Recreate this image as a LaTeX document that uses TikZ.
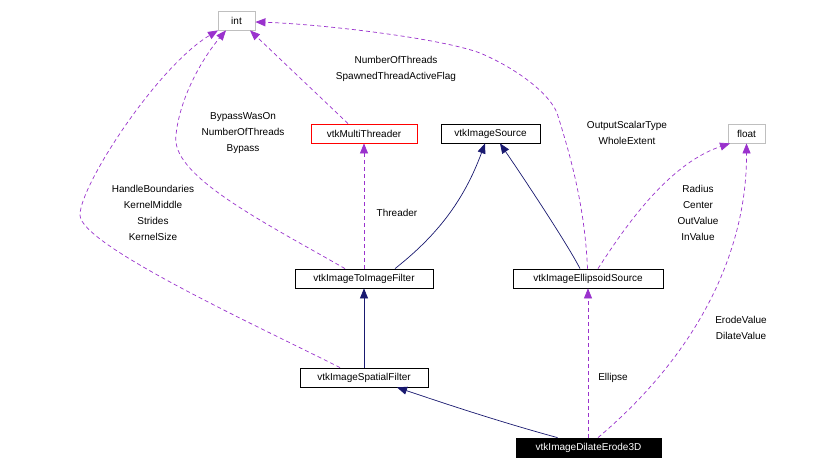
\documentclass[tikz,border=0pt]{standalone}
\usepackage{fontspec}
\setmainfont{Liberation Sans}
\usetikzlibrary{arrows.meta}
\definecolor{orchid}{HTML}{9A32CD}
\definecolor{navyline}{HTML}{191970}
\definecolor{greyline}{HTML}{BFBFBF}
\tikzset{
	cls/.style={draw=black, line width=0.8pt, minimum height=19pt, inner sep=0pt, font=\fontsize{10}{12}\selectfont},
	basic/.style={cls, draw=greyline, minimum width=37pt},
	member/.style={orchid, line width=0.7pt, dash pattern=on 4pt off 3pt, -{Triangle[length=10pt, width=8pt]}},
	inherit/.style={navyline, line width=0.7pt, -{Triangle[length=10pt, width=8pt]}},
	lbl/.style={align=center, inner sep=0pt, font=\fontsize{10}{16}\selectfont}
}
\begin{document}
\begin{tikzpicture}[x=1pt, y=-1pt]
	\fill[white] (0,0) rectangle (832,469);
	\useasboundingbox (0,0) rectangle (832,469);
	% classes
	\node[basic] (int) at (236.5,20.5) {int};
	\node[basic] (float) at (746.5,133.5) {float};
	\node[cls, draw=red, minimum width=106pt] (threader) at (364,133.5) {vtkMultiThreader};
	\node[cls, minimum width=99pt] (source) at (490.5,133.5) {vtkImageSource};
	\node[cls, minimum width=138pt] (toimage) at (364,278.5) {vtkImageToImageFilter};
	\node[cls, minimum width=150pt] (ellipsoid) at (588,278.5) {vtkImageEllipsoidSource};
	\node[cls, minimum width=128pt] (spatial) at (364,377.5) {vtkImageSpatialFilter};
	\node[cls, fill=black, text=white, minimum width=145pt] (dilate) at (588.5,447.5) {vtkImageDilateErode3D};
	% inheritance
	\draw[inherit] (spatial.north) -- (toimage.south);
	\draw[inherit] ([xshift=-31pt]dilate.north) .. controls (500,422) and (440,402) .. ([xshift=33pt]spatial.south);
	\draw[inherit] ([xshift=31pt]toimage.north) .. controls (435,237) and (463,203) .. ([xshift=-5.5pt]source.south);
	\draw[inherit] ([xshift=-8pt]ellipsoid.north) .. controls (568,245) and (525,180) .. ([xshift=9.5pt]source.south);
	% members
	\draw[member] (toimage.north) -- (threader.south);
	\draw[member] ([xshift=-0.5pt]dilate.north) -- (ellipsoid.south);
	\draw[member] ([xshift=-16pt]threader.north) -- ([xshift=13.5pt]int.south);
	\draw[member] ([xshift=-19pt]toimage.north) .. controls (260,220) and (170,175) .. (176,135)
		.. controls (180,95) and (205,55) .. ([xshift=-10.5pt]int.south);
	\draw[member] ([xshift=-24pt]spatial.north) .. controls (260,327) and (80,245) .. (80,215)
		.. controls (80,185) and (158,66) .. ([xshift=-18.5pt]int.south);
	\draw[member] ([xshift=-0.5pt]ellipsoid.north) .. controls (585,210) and (572,160) .. (557,113)
		.. controls (550,95) and (520,70) .. (480,53)
		.. controls (440,38) and (320,24) .. ([yshift=-1.5pt]int.east);
	\draw[member] ([xshift=10pt]ellipsoid.north) .. controls (620,235) and (665,165) .. ([xshift=-16.5pt]float.south);
	\draw[member] ([xshift=9.5pt]dilate.north) .. controls (690,360) and (747,260) .. (float.south);
	% member names
	\node[lbl] (lthreads) at (396,69) {NumberOfThreads\\SpawnedThreadActiveFlag};
	\node[lbl] (lbypass) at (243,133) {BypassWasOn\\NumberOfThreads\\Bypass};
	\node[lbl] (lkernel) at (153,213) {HandleBoundaries\\KernelMiddle\\Strides\\KernelSize};
	\node[lbl] (lextent) at (627,133) {OutputScalarType\\WholeExtent};
	\node[lbl] (lradius) at (698,213) {Radius\\Center\\OutValue\\InValue};
	\node[lbl] (lerode) at (741,328) {ErodeValue\\DilateValue};
	\node[lbl] (lellipse) at (613,378) {Ellipse};
	\node[lbl] (lthreader) at (397,213) {Threader};
\end{tikzpicture}
\end{document}
